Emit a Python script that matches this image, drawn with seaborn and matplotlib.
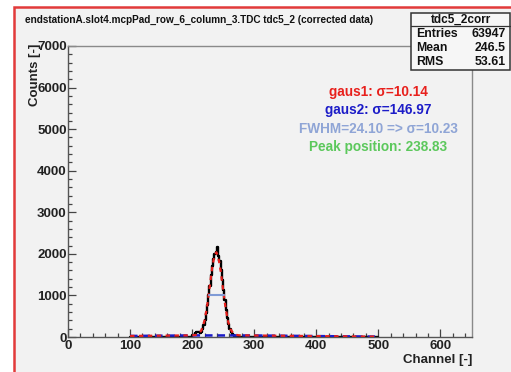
import numpy as np
import matplotlib
matplotlib.use("Agg")
import matplotlib.pyplot as plt
import seaborn as sns
from matplotlib.patches import Rectangle
from matplotlib.lines import Line2D
from matplotlib.ticker import MultipleLocator

# histogram tdc5_2corr (bin width 2 channels)
bin_edges = list(range(100, 502, 2))
peak_counts = {200: 40, 202: 60, 204: 90, 206: 110, 208: 120, 210: 110, 212: 100,
               214: 130, 216: 200, 218: 290, 220: 420, 222: 580, 224: 780, 226: 1000,
               228: 1230, 230: 1480, 232: 1700, 234: 1880, 236: 2000, 238: 2050,
               240: 2160, 242: 1950, 244: 1830, 246: 1620, 248: 1380, 250: 1120,
               252: 880, 254: 650, 256: 460, 258: 310, 260: 200, 262: 120, 264: 70,
               266: 40, 268: 20, 270: 10}
hist_counts = [peak_counts.get(e, 0) for e in bin_edges[:-1]]
bin_left = bin_edges[:-1]

# gaus1 + gaus2 fit
fit_x = [100, 190, 200, 205, 210, 215, 220, 224, 228, 232, 236, 239, 242, 246, 250,
         254, 258, 262, 266, 270, 275, 280, 290, 400, 500]
fit_y = [25, 38, 40, 46, 73, 160, 395, 724, 1168, 1635, 1963, 2038, 1941, 1592, 1124,
         688, 371, 184, 93, 55, 42, 39, 38, 22, 8]

# gaus2 (broad)
g2_x = [100, 200, 300, 400, 500]
g2_y = [25, 38, 37, 22, 8]

# FWHM marker
fwhm_x = [226.8, 250.9]
fwhm_y = [1000, 1000]

title = "endstationA.slot4.mcpPad_row_6_column_3.TDC tdc5_2 (corrected data)"
stats_name = "tdc5_2corr"
stats_rows = [("Entries", "63947"), ("Mean", "246.5"), ("RMS", "53.61")]
notes = [("gaus1: \u03c3=10.14", "#e8201c"),
         ("gaus2: \u03c3=146.97", "#1c1cc8"),
         ("FWHM=24.10 => \u03c3=10.23", "#8fa5d6"),
         ("Peak position: 238.83", "#5cc85c")]

sns.set_style("ticks")
plt.rcParams["font.family"] = ["Liberation Sans", "DejaVu Sans"]
plt.rcParams["font.weight"] = "bold"

W, H = 511, 372
fig = plt.figure(figsize=(W / 100, H / 100), dpi=100)
fig.patch.set_facecolor("white")
bg = "#f2f2f2"
fig.patches.append(Rectangle((14 / W, -0.02), 1.0, (H - 7) / H + 0.02,
                             transform=fig.transFigure, facecolor=bg,
                             edgecolor="#e23a3a", lw=1.8, zorder=-5))

ax = fig.add_axes([68 / W, (H - 337) / H, (472 - 68) / W, (337 - 46) / H])
ax.set_facecolor(bg)

sns.histplot(x=bin_left, weights=hist_counts, bins=bin_edges, element="step",
             fill=False, color="black", lw=1.7, ax=ax)
sns.lineplot(x=fit_x, y=fit_y, color="#e8201c", lw=1.6, ax=ax, zorder=4)
ax.lines[-1].set_dashes([2, 2])
sns.lineplot(x=g2_x, y=g2_y, color="#1c1cc8", lw=1.8, ax=ax, zorder=3)
ax.lines[-1].set_dashes([3, 2])
sns.lineplot(x=fwhm_x, y=fwhm_y, color="#7f9bd6", lw=1.5, ax=ax, zorder=5)

ax.set_xlim(0, 651)
ax.set_ylim(0, 7000)
ax.xaxis.set_major_locator(MultipleLocator(100))
ax.xaxis.set_minor_locator(MultipleLocator(20))
ax.yaxis.set_major_locator(MultipleLocator(1000))
ax.yaxis.set_minor_locator(MultipleLocator(200))
ax.tick_params(which="both", direction="in", colors="#444444", labelcolor="#222222",
               labelsize=9.5, top=False, right=False, width=0.9)
ax.tick_params(which="major", length=6)
ax.tick_params(which="minor", length=3)
ax.tick_params(axis="y", pad=1)
ax.tick_params(axis="x", pad=2)
for lab in ax.get_xticklabels() + ax.get_yticklabels():
    lab.set_fontweight("bold")
for s in ["top", "right"]:
    ax.spines[s].set_color("#8a8a8a")
for s in ["left", "bottom"]:
    ax.spines[s].set_color("#555555")
for s in ax.spines.values():
    s.set_linewidth(1.0)
ax.set_xlabel("")
ax.set_ylabel("")

fig.text(472 / W, 1 - 360 / H, "Channel [-]", ha="right", va="center",
         fontsize=9.5, fontweight="bold", color="#222222")
fig.text(35 / W, 1 - 44 / H, "Counts [-]", ha="center", va="top", rotation=90,
         fontsize=9.5, fontweight="bold", color="#222222")
fig.text(25 / W, 1 - 20 / H, title, ha="left", va="center", fontsize=7.2,
         fontweight="bold", color="#111111")

# stats box
fig.patches.append(Rectangle((411 / W, 1 - 70 / H), 99 / W, 57 / H,
                             transform=fig.transFigure, facecolor="#f6f6f6",
                             edgecolor="#333333", lw=1.1, zorder=5))
fig.lines.append(Line2D([411 / W, 510 / W], [1 - 26 / H, 1 - 26 / H],
                        transform=fig.transFigure, color="#333333", lw=0.9, zorder=6))
fig.text(461 / W, 1 - 20 / H, stats_name, ha="center", va="center", fontsize=8.5,
         fontweight="bold", color="#111111", zorder=7)
for i, (k, v) in enumerate(stats_rows):
    y = 1 - (34 + 14 * i) / H
    fig.text(416 / W, y, k, ha="left", va="center", fontsize=8.8,
             fontweight="bold", color="#111111", zorder=7)
    fig.text(506 / W, y, v, ha="right", va="center", fontsize=8.8,
             fontweight="bold", color="#111111", zorder=7)

for i, (t, c) in enumerate(notes):
    fig.text(378 / W, 1 - (92 + 18.3 * i) / H, t, ha="center", va="center",
             fontsize=9.8, fontweight="bold", color=c)

fig.savefig("out.png", dpi=100, facecolor=fig.get_facecolor())
